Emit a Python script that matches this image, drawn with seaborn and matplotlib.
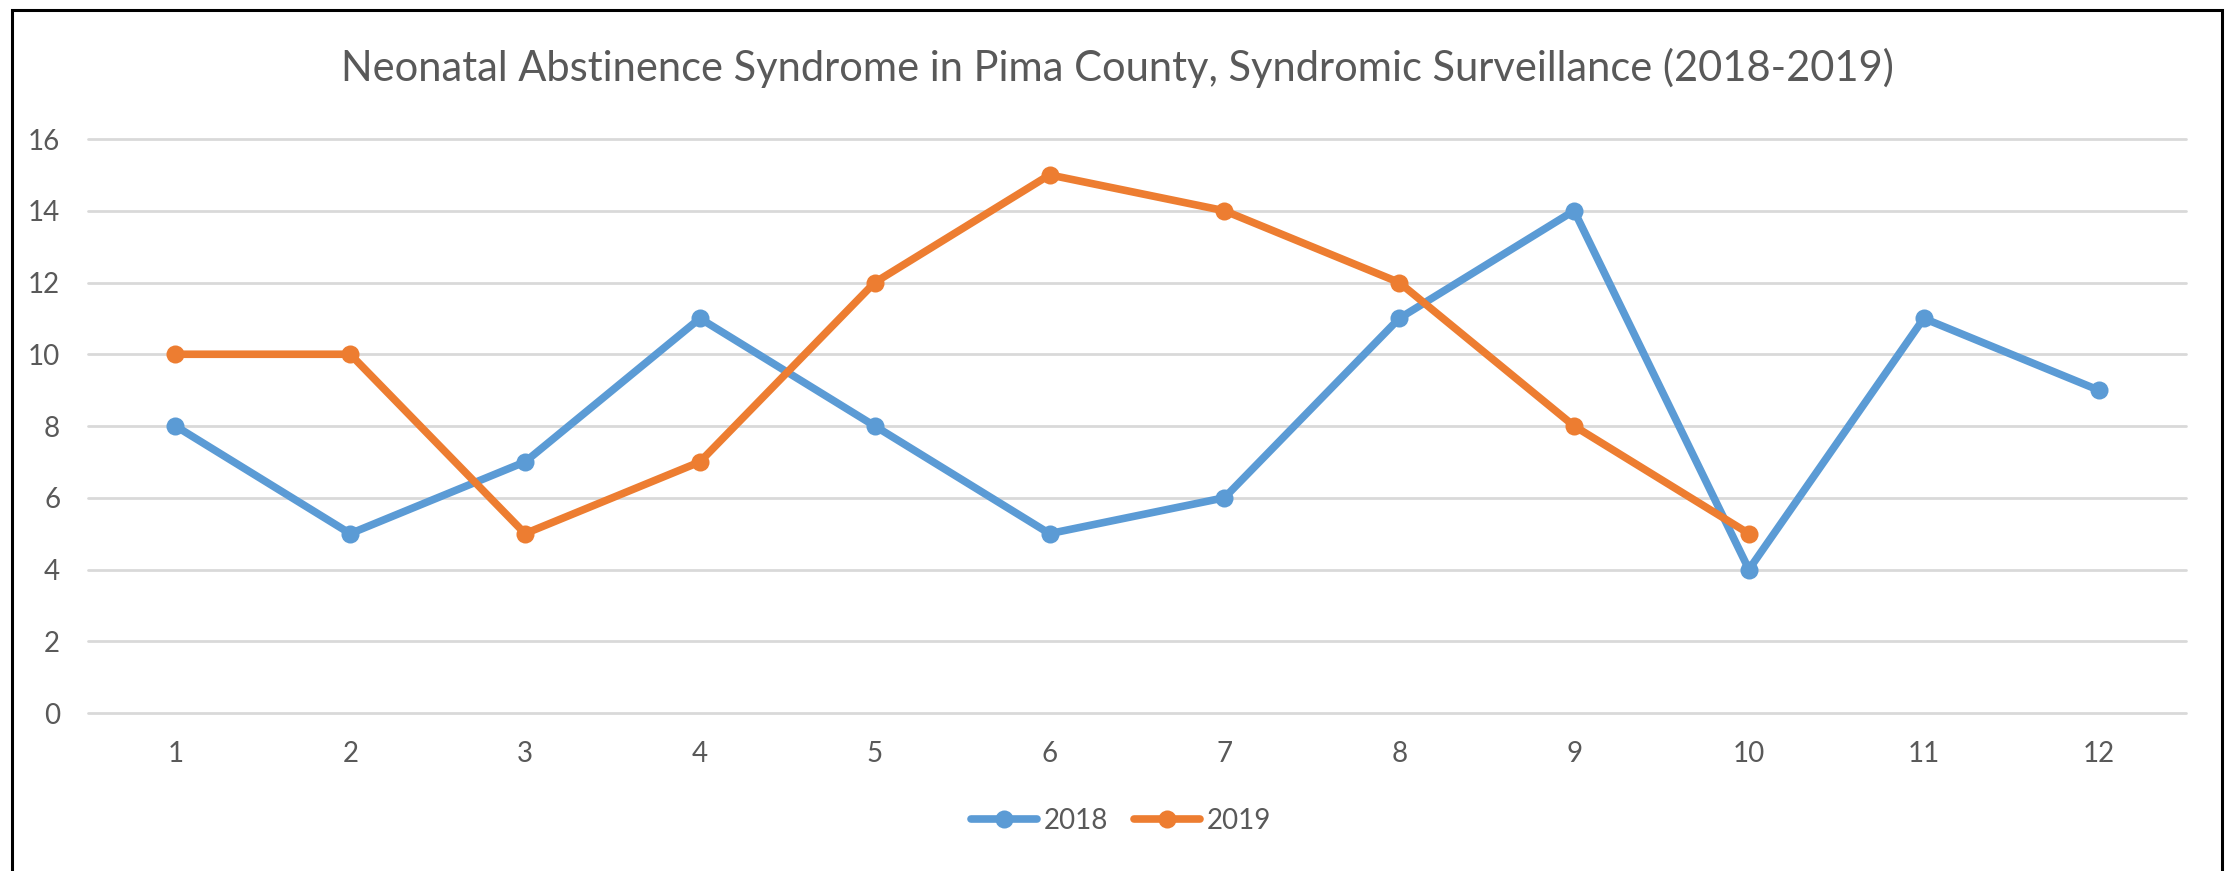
import pandas as pd
import matplotlib
matplotlib.use('Agg')
import matplotlib.pyplot as plt
from matplotlib.patches import Rectangle
import seaborn as sns

months = list(range(1, 13))
nas_2018 = [8, 5, 7, 11, 8, 5, 6, 11, 14, 4, 11, 9]
nas_2019 = [10, 10, 5, 7, 12, 15, 14, 12, 8, 5]
years = ['2018', '2019']
y_ticks = [0, 2, 4, 6, 8, 10, 12, 14, 16]

title = 'Neonatal Abstinence Syndrome in Pima County, Syndromic Surveillance (2018-2019)'
colors = {'2018': '#5B9BD5', '2019': '#ED7D31'}
text_col = '#595959'

sns.set_theme(style='white')
plt.rcParams['font.family'] = ['Lato', 'DejaVu Sans']

df = pd.concat([
    pd.DataFrame({'month': months, 'count': nas_2018, 'year': '2018'}),
    pd.DataFrame({'month': months[:len(nas_2019)], 'count': nas_2019, 'year': '2019'}),
])

W, H = 2227, 871
fig = plt.figure(figsize=(W / 100, H / 100), dpi=100)
ax = fig.add_axes([88 / W, 1 - 713 / H, (2186 - 88) / W, (713 - 139) / H])

sns.lineplot(data=df, x='month', y='count', hue='year', hue_order=years,
             palette=colors, marker='o', markersize=13, markeredgewidth=0,
             linewidth=5.5, ax=ax, zorder=3)

ax.set_xlim(0.5, 12.5)
ax.set_ylim(0, 16)
ax.set_xticks(months)
ax.set_yticks(y_ticks)
ax.yaxis.grid(True, color='#D9D9D9', linewidth=2)
ax.xaxis.grid(False)
ax.set_axisbelow(True)
for gl in ax.get_ygridlines():
    gl.set_clip_on(False)
for s in ax.spines.values():
    s.set_visible(False)
ax.tick_params(axis='both', length=0, labelsize=20, colors=text_col)
ax.tick_params(axis='y', pad=20)
ax.tick_params(axis='x', pad=20)
ax.set_xlabel('')
ax.set_ylabel('')

handles, labels = ax.get_legend_handles_labels()
ax.legend(handles, labels, loc='center', bbox_to_anchor=(1121 / W, 1 - 821 / H),
          bbox_transform=fig.transFigure, ncol=2, frameon=False, fontsize=20,
          handlelength=2.4, handletextpad=0.25, columnspacing=0.9, labelcolor=text_col)

fig.text(1117 / W, 1 - 68 / H, title, ha='center', va='center', fontsize=30, color=text_col)

# chart frame like the screenshot
fig.patches.append(Rectangle((12 / W, -0.05), (2222 - 12) / W, 1.05 - 10 / H,
                             transform=fig.transFigure, fill=False,
                             edgecolor='black', linewidth=2.2))

plt.savefig('out.png', dpi=100)
plt.close()
